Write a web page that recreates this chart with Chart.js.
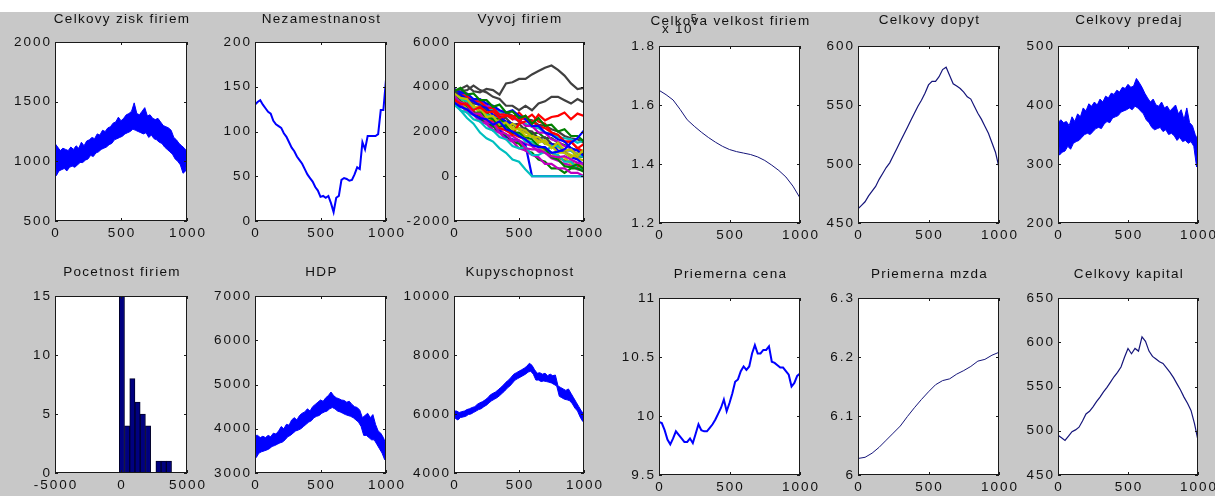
<!DOCTYPE html>
<html>
<head>
<meta charset="utf-8">
<script src="https://cdn.jsdelivr.net/npm/chart.js@4.4.1/dist/chart.umd.min.js"></script>
<style>
  html, body { margin: 0; padding: 0; }
  body { width: 1215px; height: 496px; background: #c8c8c8; position: relative; overflow: hidden; }
  #strip { position: absolute; left: 0; top: 0; width: 1215px; height: 12px; background: #fff; }
  canvas { position: absolute; }
</style>
</head>
<body>
<div id="strip"></div>
<script>
// tick labels
var timeTicks = [0, 500, 1000];
var histTicksX = [-5000, 0, 5000];
var ziskTicks = [500, 1000, 1500, 2000];
var nezamTicks = [0, 50, 100, 150, 200];
var vyvojTicks = [-2000, 0, 2000, 4000, 6000];
var velkostTicks = [120000, 140000, 160000, 180000];
var dopytTicks = [450, 500, 550, 600];
var predajTicks = [200, 300, 400, 500];
var histTicksY = [0, 5, 10, 15];
var hdpTicks = [3000, 4000, 5000, 6000, 7000];
var kupyTicks = [4000, 6000, 8000, 10000];
var cenaTicks = [9.5, 10, 10.5, 11];
var mzdaTicks = [6, 6.1, 6.2, 6.3];
var kapitalTicks = [450, 500, 550, 600, 650];

// noisy series: upper swings every 20 steps, lower swings in between
var ziskStart = 1960;
var ziskHi = [1150,1120,1090,1110,1100,1090,1120,1100,1130,1110, 1160,1130,1170,1180,1200,1190,1230,1220,1260,1250,
              1280,1290,1320,1330,1370,1340,1360,1390,1400,1420, 1490,1400,1390,1420,1450,1380,1390,1360,1350,1360,
              1330,1300,1290,1280,1260,1200,1180,1150,1130,1110, 1080];
var ziskLo = [880,920,930,940,920,950,960,950,970,990, 990,1010,1020,1050,1040,1070,1080,1100,1110,1120,
              1140,1150,1180,1190,1200,1210,1230,1240,1250,1270, 1260,1250,1240,1230,1240,1200,1220,1190,1180,1160,
              1150,1120,1100,1080,1060,1020,1000,970,900,920];

var predajStart = 600;
var predajHi = [370,375,370,372,365,380,372,385,380,395, 390,402,398,405,400,410,405,415,412,420,
                418,425,422,430,428,435,430,432,445,438, 430,420,412,405,410,400,398,405,395,398,
                390,395,400,385,392,375,395,370,365,350, 340];
var predajLo = [315,320,322,330,325,335,338,340,345,350, 352,350,355,360,362,360,368,372,370,378,
                380,382,388,390,392,395,392,398,395,390, 385,375,370,362,358,360,362,355,358,350,
                352,348,340,345,338,340,335,338,330,295];

var hdpStart = 6000;
var hdpHi = [3850,3850,3800,3830,3800,3850,3820,3900,3880,3950, 4050,4000,4100,4080,4200,4250,4200,4300,4350,4380,
             4450,4400,4500,4550,4600,4650,4620,4700,4750,4830, 4750,4700,4680,4650,4640,4600,4620,4550,4500,4480,
             4420,4250,4300,4350,4250,4320,4100,3950,3900,3800, 3650];
var hdpLo = [3350,3450,3480,3500,3520,3550,3600,3620,3650,3680, 3700,3750,3820,3850,3900,3950,3970,4000,4050,4100,
             4150,4180,4250,4280,4300,4350,4380,4400,4450,4480, 4450,4400,4380,4350,4320,4300,4280,4250,4200,4150,
             4050,3850,3850,3800,3750,3750,3650,3550,3450,3300];

var kupyStart = 9700;
var kupyHi = [6100,6100,6050,6080,6100,6150,6180,6220,6250,6330, 6380,6420,6480,6550,6650,6700,6750,6820,6900,6980,
              7080,7150,7250,7350,7400,7450,7500,7550,7620,7720, 7650,7500,7380,7400,7350,7380,7300,7350,7300,7320,
              6950,6900,6850,6800,6850,6700,6550,6400,6250,6100, 6000];
var kupyLo = [5850,5800,5880,5900,5920,5980,6000,6050,6100,6150, 6180,6250,6300,6380,6450,6500,6550,6620,6700,6780,
              6880,6950,7050,7150,7200,7250,7300,7350,7420,7450, 7350,7150,7150,7100,7120,7100,7080,7050,7000,6950,
              6600,6550,6500,6480,6450,6350,6200,6100,5900,5750];

// step 20
var nezamStart = 200;
var nezam = [130,133,135,130,126,122,120,112,108,106, 104,98,94,88,82,78,72,68,64,58,
             52,48,44,38,34,27,28,26,28,20, 10,26,28,46,48,47,45,46,52,60,
             58,88,80,95,95,95,95,97,124,124, 158];
var cena = [9.95,9.94,9.88,9.80,9.76,9.81,9.87,9.84,9.81,9.78, 9.78,9.81,9.77,9.85,9.93,9.88,9.87,9.87,9.90,9.93,
            9.97,10.02,10.07,10.14,10.04,10.11,10.19,10.29,10.31,10.38, 10.42,10.39,10.42,10.53,10.60,10.53,10.53,10.56,10.56,10.59,
            10.46,10.45,10.43,10.41,10.41,10.38,10.35,10.25,10.28,10.34, 10.36];

// step 25
var dopytStart = 0;
var dopyt = [462,465,468,473,477,481,487,492,497,501, 507,513,519,525,531,537,543,549,554,560,
             567,570,570,574,580,582,575,568,566,564, 561,557,555,549,543,538,532,526,518,510, 497];
var kapitalStart = 0;
var kapital = [495,492,489,494,499,501,504,511,519,522, 527,533,538,544,549,555,561,566,572,583,
               593,587,593,590,606,601,590,584,581,578, 576,571,566,560,553,546,538,531,523,508, 489];

// step 50
var velkost = [165000,163500,161700,158500,155000,152800,150800,149000,147400,146000, 144900,
               144200,143700,143200,142400,141200,139600,137800,135600,132500,128500];
var mzdaStart = 0;
var mzda = [6.028,6.030,6.037,6.047,6.059,6.071,6.083,6.099,6.114,6.128, 6.141,
            6.153,6.160,6.163,6.171,6.177,6.184,6.193,6.196,6.203,6.208];

// firm size paths, step 50 (colours follow the default 7-colour order)
var firms = [
  [3300,3100,3000,2750,2600,2550,2300,2450,2100,2000,1800,1650,1400,1300,1300,1050,1100,1200,1500,1700,2050],
  [3800,3950,3650,3700,3400,3400,3100,3200,2850,2900,2600,2700,2350,2600,2250,2300,2000,2100,1800,1800,1550],
  [3400,3250,3200,2950,3100,2850,2900,2600,2700,2700,2450,2700,2350,2750,2500,2650,2700,2850,2550,2800,2700],
  [3200,2950,2600,2350,1950,1700,1550,1250,1050,750,650,300,0,0,0,0,0,0,0,0,0],
  [3600,3300,3200,2800,2800,2400,2400,1950,1900,1600,1600,1250,1200,1200,1050,900,850,900,750,600,550],
  [3700,3500,3450,3100,3100,2650,2700,2300,2400,2100,2100,1800,1800,1500,1600,1250,1500,1150,1200,900,1200],
  [3800,3900,4050,3800,3750,3900,3850,3650,4150,4200,4350,4350,4550,4700,4850,4950,4750,4500,4150,3900,3950],
  [3900,3750,3700,3450,3450,3250,3150,2950,2850,2950,2700,2550,2250,2250,1950,1850,1650,1550,1250,1150,900],
  [3600,3350,3150,2850,2850,2650,2550,2250,2250,1950,1950,1750,1650,1350,1250,850,750,450,400,550,300],
  [3500,3250,3250,2850,2750,2450,2450,2150,2050,1850,2350,2450,2450,2250,2150,1950,1850,1550,1550,1250,1450],
  [3300,2950,2850,2550,2450,2150,2050,1750,1650,1350,1250,1300,950,950,1100,1350,1350,1200,1150,950,850],
  [3400,3250,2850,2750,2450,2350,2050,1950,1650,1550,1250,1150,950,850,550,550,350,350,150,150,0],
  [3400,3250,3050,2850,2750,2550,2450,2150,2150,2350,2150,2050,1750,1750,1450,1350,1050,1050,850,1050,1100],
  [3700,3800,3850,4050,3850,3750,3550,3450,3150,3150,2950,3150,2950,3250,3350,3550,3550,3400,3250,3450,3300],
  [3800,3650,3450,3350,3150,3050,2750,2650,2450,2350,2150,2050,1750,1750,1450,1450,1150,1050,850,750,500],
  [3500,3250,3050,2850,2650,2350,2250,1950,1850,1550,1450,1150,1050,750,650,350,350,150,350,350,200],
  [3800,3650,3550,3350,3350,3050,3050,2750,2750,2550,2850,2550,2750,2450,2350,1950,1850,1550,1550,1250,1100],
  [3600,3450,3350,3050,3050,2750,2650,2350,2250,1950,1850,1550,1550,1350,1250,1050,950,650,650,350,300],
  [3900,3750,3650,3350,3350,3150,3050,2750,2750,2550,2550,2250,2250,1950,1950,1650,1550,1350,1250,950,950],
  [3600,3450,3150,3150,2850,2750,2450,2350,2050,2050,1850,1750,1450,1350,1050,1050,850,850,550,550,400],
  [3700,3550,3500,3250,3200,2950,2900,2650,2600,2300,2350,2050,2000,1700,1750,1450,1400,1150,1150,900,850],
  [3500,3250,2950,2850,2500,2350,2050,2050,1750,1650,1550,1400,0,0,0,0,0,0,0,0,0],
  [3500,3450,3200,3150,2850,2850,2550,2600,2300,2350,2100,2150,1900,1950,1700,1700,1500,1400,1250,1150,1000],
  [3300,3200,2900,2900,2600,2500,2250,2300,2050,1900,1750,1650,1450,1350,1150,1050,850,700,650,450,400],
  [3900,3700,3600,3400,3250,3150,2950,2900,2700,2650,2450,2350,2200,2150,1950,1900,1750,1700,1650,1500,1600],
  [3450,3200,2950,2800,2550,2450,2200,2100,1850,1800,1600,1450,1350,1100,1050,800,700,550,500,300,250],
  [3550,3400,3350,3100,2950,2850,2650,2500,2400,2200,2100,1950,1850,1600,1600,1350,1300,1100,950,800,700],
  [3650,3500,3400,3300,3250,3100,3000,2900,2850,2700,2650,2550,2500,2300,2250,2100,2000,1800,1700,1650,1500]
];

// histogram of final firm sizes
var histCenters = [68, 464, 860, 1256, 1652, 2048, 2444, 2840, 3236, 3632];
var histCounts = [15, 4, 8, 6, 5, 4, 0, 1, 1, 1];

var BLUE = '#0000ff';
var NAVY = '#15157a';
var FIRM_COLORS = ['#0000ff', '#008000', '#ff0000', '#00bfbf', '#bf00bf', '#bfbf00', '#404040'];

function series(values, step) {
  return values.map(function(v, i) { return { x: i * step, y: v }; });
}
function startAt(y0, pts) {
  return [{ x: 0, y: y0 }].concat(pts);
}
function line(data, color, width) {
  return { type: 'line', data: data, borderColor: color, borderWidth: width, pointRadius: 0,
           tension: 0, fill: false, clip: 0 };
}
// a noisy trace drawn as its lower and upper swings with the gap filled
function band(y0, hi, lo) {
  var upper = hi.map(function(v, i) { return { x: i * 20, y: v }; });
  var lower = lo.map(function(v, i) { return { x: i * 20 + 10, y: v }; });
  lower.unshift({ x: 0, y: hi[0] });
  lower.push({ x: 1000, y: hi[hi.length - 1] });
  var lowerSet = line(lower, BLUE, 1);
  var upperSet = line(upper, BLUE, 1);
  upperSet.fill = '-1';
  upperSet.backgroundColor = BLUE;
  return [line([{ x: 0, y: y0 }, { x: 0, y: hi[0] }], BLUE, 1), lowerSet, upperSet];
}
function fmt(v, div) {
  return String(+(v / (div || 1)).toFixed(4));
}

// axes box, inward ticks, tick labels and title in the old plotting style
function axesPlugin(p) {
  return {
    id: 'matlabAxes',
    beforeDraw: function(chart) {
      var ctx = chart.ctx, a = chart.chartArea;
      ctx.save();
      ctx.fillStyle = '#ffffff';
      ctx.fillRect(a.left, a.top, a.right - a.left, a.bottom - a.top);
      ctx.restore();
    },
    afterDraw: function(chart) {
      var ctx = chart.ctx, a = chart.chartArea;
      var xs = chart.scales.x, ys = chart.scales.y;
      ctx.save();
      ctx.strokeStyle = '#1a1a1a';
      ctx.lineWidth = 1;
      ctx.beginPath();
      p.xTicks.forEach(function(v) {
        var px = Math.round(xs.getPixelForValue(v)) + 0.5;
        ctx.moveTo(px, a.bottom); ctx.lineTo(px, a.bottom - 3);
        ctx.moveTo(px, a.top); ctx.lineTo(px, a.top + 3);
      });
      p.yTicks.forEach(function(v) {
        var py = Math.round(ys.getPixelForValue(v)) + 0.5;
        ctx.moveTo(a.left, py); ctx.lineTo(a.left + 3, py);
        ctx.moveTo(a.right, py); ctx.lineTo(a.right - 3, py);
      });
      ctx.stroke();
      ctx.strokeRect(a.left + 0.5, a.top + 0.5, a.right - a.left - 1, a.bottom - a.top - 1);

      ctx.fillStyle = '#111111';
      ctx.font = '13.5px "Liberation Sans", Arial, sans-serif';
      ctx.letterSpacing = '2px';
      ctx.textBaseline = 'middle';
      ctx.textAlign = 'center';
      p.xTicks.forEach(function(v) {
        ctx.fillText(fmt(v), xs.getPixelForValue(v) + 1, a.bottom + 12);
      });
      ctx.textAlign = 'right';
      p.yTicks.forEach(function(v) {
        ctx.fillText(fmt(v, p.div), a.left - 3, ys.getPixelForValue(v));
      });
      ctx.font = '13.5px "Liberation Sans", Arial, sans-serif';
      ctx.letterSpacing = '1.3px';
      ctx.textAlign = 'center';
      ctx.fillText(p.title, (a.left + a.right) / 2 + 1, a.top - p.titleGap);
      if (p.div) {
        ctx.textAlign = 'left';
        ctx.fillText('x 10', a.left + 3, a.top - 17);
        var w = ctx.measureText('x 10').width;
        ctx.font = '11px "Liberation Sans", Arial, sans-serif';
        ctx.fillText(String(Math.log10(p.div)), a.left + 1 + w, a.top - 27);
      }
      ctx.restore();
    }
  };
}

var panels = [
  { box: [55, 42, 187, 221], title: 'Celkovy zisk firiem', titleGap: 23, xTicks: timeTicks, yTicks: ziskTicks,
    datasets: band(ziskStart, ziskHi, ziskLo) },
  { box: [255, 42, 386, 221], title: 'Nezamestnanost', titleGap: 23, xTicks: timeTicks, yTicks: nezamTicks,
    datasets: [line(startAt(nezamStart, series(nezam, 20)), BLUE, 2)] },
  { box: [454, 42, 584, 221], title: 'Vyvoj firiem', titleGap: 23, xTicks: timeTicks, yTicks: vyvojTicks,
    datasets: firms.map(function(f, i) { return line(series(f, 50), FIRM_COLORS[i % 7], 2.2); }) },
  { box: [659, 46, 800, 223], title: 'Celkova velkost firiem', titleGap: 25, xTicks: timeTicks, yTicks: velkostTicks, div: 1e5,
    datasets: [line(series(velkost, 50), NAVY, 1)] },
  { box: [858, 46, 999, 223], title: 'Celkovy dopyt', titleGap: 26, xTicks: timeTicks, yTicks: dopytTicks,
    datasets: [line(startAt(dopytStart, series(dopyt, 25)), NAVY, 1.2)] },
  { box: [1058, 46, 1198, 223], title: 'Celkovy predaj', titleGap: 26, xTicks: timeTicks, yTicks: predajTicks,
    datasets: band(predajStart, predajHi, predajLo) },
  { box: [55, 296, 187, 473], title: 'Pocetnost firiem', titleGap: 24, xTicks: histTicksX, yTicks: histTicksY, hist: true,
    datasets: [{ type: 'bar', data: histCenters.map(function(c, i) { return { x: c, y: histCounts[i] }; }),
                 backgroundColor: '#000080', borderColor: '#00002a', borderWidth: 1,
                 barPercentage: 1, categoryPercentage: 1 }] },
  { box: [255, 296, 386, 473], title: 'HDP', titleGap: 24, xTicks: timeTicks, yTicks: hdpTicks,
    datasets: band(hdpStart, hdpHi, hdpLo) },
  { box: [454, 296, 584, 473], title: 'Kupyschopnost', titleGap: 24, xTicks: timeTicks, yTicks: kupyTicks,
    datasets: band(kupyStart, kupyHi, kupyLo) },
  { box: [659, 298, 800, 475], title: 'Priemerna cena', titleGap: 24, xTicks: timeTicks, yTicks: cenaTicks,
    datasets: [line(series(cena, 20), BLUE, 2)] },
  { box: [858, 298, 999, 475], title: 'Priemerna mzda', titleGap: 24, xTicks: timeTicks, yTicks: mzdaTicks,
    datasets: [line(startAt(mzdaStart, series(mzda, 50)), NAVY, 1)] },
  { box: [1058, 298, 1198, 475], title: 'Celkovy kapital', titleGap: 24, xTicks: timeTicks, yTicks: kapitalTicks,
    datasets: [line(startAt(kapitalStart, series(kapital, 25)), NAVY, 1.2)] }
];

panels.forEach(function(p) {
  var L = p.box[0], T = p.box[1], R = p.box[2], B = p.box[3];
  var cv = document.createElement('canvas');
  cv.width = R - L + 100;
  cv.height = B - T + 65;
  cv.style.left = (L - 60) + 'px';
  cv.style.top = (T - 40) + 'px';
  document.body.appendChild(cv);

  new Chart(cv.getContext('2d'), {
    type: p.hist ? 'bar' : 'line',
    data: { datasets: p.datasets },
    options: {
      responsive: false,
      animation: false,
      events: [],
      layout: { padding: { left: 60, top: 40, right: 40, bottom: 25 } },
      plugins: { legend: { display: false }, tooltip: { enabled: false }, title: { display: false } },
      scales: {
        x: { type: 'linear', display: false, offset: false,
             min: p.xTicks[0], max: p.xTicks[p.xTicks.length - 1] },
        y: { type: 'linear', display: false,
             min: p.yTicks[0], max: p.yTicks[p.yTicks.length - 1] }
      }
    },
    plugins: [axesPlugin(p)]
  });
});
</script>
</body>
</html>
